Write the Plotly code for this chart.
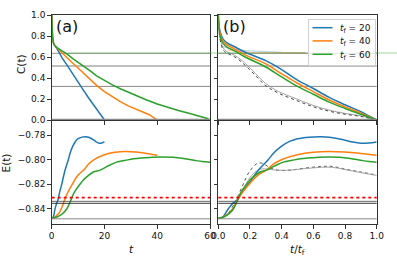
import plotly.graph_objects as go

W, H = 397, 264

# ---------------- data ----------------
# panel (a) C(t)
t_c_blue = [0, 0.1, 0.3, 0.6, 1, 2, 3, 4, 6, 8, 10, 12, 14, 16, 17, 18, 19, 19.7, 20]
c_blue = [1.0, 0.9, 0.8, 0.74, 0.715, 0.68, 0.635, 0.59, 0.515, 0.435, 0.36, 0.285, 0.21, 0.14, 0.1, 0.07, 0.035, 0.012, 0.0]
t_c_orange = [0, 0.1, 0.3, 0.6, 1, 2, 3, 4, 6, 8, 10, 12, 14, 17, 20, 23, 26, 29, 32, 35, 37, 38.5, 39.5, 40]
c_orange = [1.0, 0.9, 0.8, 0.74, 0.715, 0.685, 0.66, 0.635, 0.59, 0.54, 0.495, 0.445, 0.4, 0.33, 0.27, 0.22, 0.175, 0.135, 0.1, 0.072, 0.05, 0.025, 0.01, 0.0]
t_c_green = [0, 0.1, 0.3, 0.6, 1, 2, 3, 4, 6, 8, 10, 12, 15, 17, 20, 23, 26, 29, 32, 36, 40, 44, 48, 52, 56, 59, 60]
c_green = [1.0, 0.9, 0.8, 0.74, 0.715, 0.69, 0.675, 0.66, 0.625, 0.585, 0.55, 0.52, 0.46, 0.42, 0.375, 0.335, 0.298, 0.265, 0.235, 0.19, 0.152, 0.12, 0.09, 0.065, 0.04, 0.015, 0.0]

# panel (b) C vs t/tf
u_c = [0, 0.01, 0.03, 0.06, 0.1, 0.17, 0.3, 0.4, 0.5, 0.6, 0.7, 0.8, 0.9, 1.0]
cb_blue = [1.0, 0.85, 0.77, 0.73, 0.70, 0.645, 0.565, 0.48, 0.38, 0.30, 0.215, 0.145, 0.08, 0.0]
cb_orange = [1.0, 0.83, 0.75, 0.71, 0.68, 0.62, 0.535, 0.44, 0.35, 0.27, 0.19, 0.125, 0.065, 0.0]
cb_green = [1.0, 0.8, 0.73, 0.69, 0.66, 0.60, 0.505, 0.41, 0.32, 0.245, 0.17, 0.11, 0.055, 0.0]
u_c_ref = [0, 0.01, 0.03, 0.05, 0.086, 0.12, 0.17, 0.234, 0.297, 0.381, 0.486, 0.592, 0.697, 0.8, 0.907, 1.0]
cb_ref1 = [1.0, 0.8, 0.69, 0.655, 0.63, 0.60, 0.54, 0.444, 0.35, 0.27, 0.206, 0.143, 0.095, 0.063, 0.038, 0.0]
cb_ref2 = [1.0, 0.78, 0.67, 0.64, 0.615, 0.585, 0.52, 0.425, 0.33, 0.255, 0.19, 0.13, 0.085, 0.055, 0.032, 0.0]
u_faint_blue = [0.03, 0.1, 0.2, 0.3, 0.4, 0.55]
c_faint_blue = [0.70, 0.67, 0.658, 0.65, 0.645, 0.642]
u_faint_orange = [0.06, 0.1, 0.2, 0.35, 0.55]
c_faint_orange = [0.67, 0.655, 0.645, 0.641, 0.64]

# panel (a)/(b) E(t)
t_e_blue = [0, 0.5, 1.25, 2, 2.3, 3, 3.8, 5, 6.3, 7, 8, 9, 10, 11.5, 13, 14, 15, 16, 17, 18, 19, 20]
e_blue = [-0.8475, -0.847, -0.84, -0.8345, -0.8333, -0.8265, -0.82, -0.809, -0.80, -0.7945, -0.789, -0.7852, -0.783, -0.7817, -0.7814, -0.7818, -0.7828, -0.7842, -0.7857, -0.7866, -0.7864, -0.7856]
t_e_orange = [0, 1, 2, 3, 4, 4.6, 6, 7.8, 10, 12.2, 14, 16.4, 20, 24, 28, 32, 36, 40]
e_orange = [-0.8475, -0.847, -0.845, -0.8425, -0.838, -0.8343, -0.827, -0.82, -0.8125, -0.8082, -0.8035, -0.7995, -0.796, -0.794, -0.7933, -0.7938, -0.795, -0.7965]
t_e_green = [0, 2, 4, 5.7, 7, 7.6, 9, 10.7, 12, 13.5, 15.8, 18.3, 21, 24.6, 28, 31, 35, 38, 42, 46, 50, 54, 57, 60]
e_green = [-0.8475, -0.8465, -0.844, -0.84, -0.8343, -0.831, -0.825, -0.82, -0.8165, -0.8135, -0.81, -0.8085, -0.8055, -0.802, -0.8005, -0.7993, -0.7985, -0.798, -0.7978, -0.798, -0.799, -0.8005, -0.8015, -0.802]
tf_values = [20, 40, 60]
legend_labels = [f"<i>t</i><sub>f</sub> = {tf}" for tf in tf_values]

u_e_ref = [0, 0.05, 0.1, 0.15, 0.2, 0.25, 0.28, 0.32, 0.37, 0.45, 0.55, 0.65, 0.72, 0.8, 0.9, 1.0]
eb_ref1 = [-0.8475, -0.845, -0.836, -0.822, -0.809, -0.8028, -0.803, -0.806, -0.8085, -0.8085, -0.8068, -0.8055, -0.8055, -0.8077, -0.81, -0.8125]
eb_ref2 = [-0.8475, -0.8455, -0.838, -0.826, -0.8145, -0.8085, -0.8075, -0.8078, -0.8085, -0.8085, -0.8072, -0.8062, -0.8062, -0.808, -0.8105, -0.8128]

c_hlines = [0.635, 0.515, 0.32]
e_red = -0.8308
e_black = [-0.8338, -0.8354]
e_gray = -0.848

# ---------------- figure ----------------
BLUE, ORANGE, GREEN = "#1f77b4", "#ff7f0e", "#2ca02c"
cols = [BLUE, ORANGE, GREEN]

def px_x(p):
    return p / W

def px_y(p):
    return 1 - p / H

xa = [px_x(51.7), px_x(210)]
xb = [px_x(218.3), px_x(376.7)]
yt = [px_y(120), px_y(15)]
yb = [px_y(224), px_y(120)]

fig = go.Figure()

# (a) C
for tx, cy, col in zip([t_c_blue, t_c_orange, t_c_green], [c_blue, c_orange, c_green], cols):
    fig.add_trace(go.Scatter(x=tx, y=cy, mode="lines", line=dict(color=col, width=1.5),
                             showlegend=False, xaxis="x", yaxis="y"))
# (b) C
fig.add_trace(go.Scatter(x=u_faint_blue, y=c_faint_blue, mode="lines", line=dict(color=BLUE, width=1.3),
                         opacity=0.3, showlegend=False, xaxis="x2", yaxis="y2"))
fig.add_trace(go.Scatter(x=u_faint_orange, y=c_faint_orange, mode="lines", line=dict(color=ORANGE, width=1.3),
                         opacity=0.4, showlegend=False, xaxis="x2", yaxis="y2"))
fig.add_trace(go.Scatter(x=u_c_ref, y=cb_ref1, mode="lines", line=dict(color="#999", width=0.9, shape="spline"),
                         showlegend=False, xaxis="x2", yaxis="y2"))
fig.add_trace(go.Scatter(x=u_c_ref, y=cb_ref2, mode="lines", line=dict(color="#333", width=0.9, dash="dot", shape="spline"),
                         showlegend=False, xaxis="x2", yaxis="y2"))
for cy, col, lab in zip([cb_blue, cb_orange, cb_green], cols, legend_labels):
    fig.add_trace(go.Scatter(x=u_c, y=cy, mode="lines", line=dict(color=col, width=1.5, shape="spline"),
                             name=lab, showlegend=False, xaxis="x2", yaxis="y2"))

# (a) and (b) E
for tx, ey, col in zip([t_e_blue, t_e_orange, t_e_green], [e_blue, e_orange, e_green], cols):
    fig.add_trace(go.Scatter(x=tx, y=ey, mode="lines", line=dict(color=col, width=1.5, shape="spline"),
                             showlegend=False, xaxis="x3", yaxis="y3"))
fig.add_trace(go.Scatter(x=u_e_ref, y=eb_ref1, mode="lines", line=dict(color="#444", width=0.9, dash="dot", shape="spline"),
                         showlegend=False, xaxis="x4", yaxis="y4"))
fig.add_trace(go.Scatter(x=u_e_ref, y=eb_ref2, mode="lines", line=dict(color="#999", width=0.9, shape="spline"),
                         showlegend=False, xaxis="x4", yaxis="y4"))
for tx, ey, col, tf in zip([t_e_blue, t_e_orange, t_e_green], [e_blue, e_orange, e_green], cols, tf_values):
    fig.add_trace(go.Scatter(x=[v / tf for v in tx], y=ey, mode="lines", line=dict(color=col, width=1.5, shape="spline"),
                             showlegend=False, xaxis="x4", yaxis="y4"))

shapes = []
for xr, yr in [("x", "y"), ("x2", "y2")]:
    for i, v in enumerate(c_hlines):
        shapes.append(dict(type="line", xref=f"{xr} domain", yref=yr, x0=0, x1=1, y0=v, y1=v,
                           line=dict(color=["#777", "#aaa", "#888"][i], width=[0.8, 1.6, 1.0][i]), layer="below"))
    shapes.append(dict(type="line", xref=f"{xr} domain", yref=yr, x0=0, x1=1, y0=0, y1=0,
                       line=dict(color="#888", width=2.5)))
for xr, yr in [("x3", "y3"), ("x4", "y4")]:
    shapes.append(dict(type="line", xref=f"{xr} domain", yref=yr, x0=0, x1=1, y0=e_red, y1=e_red,
                       line=dict(color="red", width=1.6, dash="dot")))
    for v, c in zip(e_black, ["#555", "#222"]):
        shapes.append(dict(type="line", xref=f"{xr} domain", yref=yr, x0=0, x1=1, y0=v, y1=v,
                           line=dict(color=c, width=0.9)))
    shapes.append(dict(type="line", xref=f"{xr} domain", yref=yr, x0=0, x1=1, y0=e_gray, y1=e_gray,
                       line=dict(color="#888", width=1.0)))
# faint green line spanning the figure
shapes.append(dict(type="line", xref="paper", yref="y", x0=px_x(68), x1=1, y0=0.638, y1=0.638,
                   line=dict(color="rgba(44,160,44,0.45)", width=1.0)))

# legend box (matplotlib style)
LX0, LX1, LY0, LY1 = 308.5, 375.5, 19.5, 65.5
shapes.append(dict(type="rect", xref="paper", yref="paper", x0=px_x(LX0), x1=px_x(LX1), y0=px_y(LY1), y1=px_y(LY0),
                   line=dict(color="#d0d0d0", width=1), fillcolor="rgba(255,255,255,0.8)"))
leg_rows = [27.7, 40.9, 54.3]
FONT = "DejaVu Sans"
annotations = []
for ry, col, lab in zip(leg_rows, cols, legend_labels):
    shapes.append(dict(type="line", xref="paper", yref="paper", x0=px_x(312.5), x1=px_x(332.5),
                       y0=px_y(ry), y1=px_y(ry), line=dict(color=col, width=1.5)))
    annotations.append(dict(text=lab, x=px_x(337.5), y=px_y(ry + 1), xref="paper", yref="paper",
                            xanchor="left", yanchor="middle", showarrow=False,
                            font=dict(family=FONT, size=9, color="#111")))

ax_common = dict(showline=True, linecolor="#333", linewidth=1, mirror=True, ticks="outside",
                 ticklen=3.5, tickcolor="#333", tickfont=dict(family=FONT, size=9, color="#111"),
                 showgrid=False, zeroline=False, automargin=False)

annotations += [
    dict(text="(a)", x=px_x(54), y=px_y(15), xref="paper", yref="paper", xanchor="left", yanchor="top",
         showarrow=False, font=dict(family=FONT, size=16, color="#111")),
    dict(text="(b)", x=px_x(221), y=px_y(15), xref="paper", yref="paper", xanchor="left", yanchor="top",
         showarrow=False, font=dict(family=FONT, size=16, color="#111")),
    dict(text="C(t)", x=px_x(21), y=px_y(64), xref="paper", yref="paper", textangle=-90,
         xanchor="center", yanchor="middle",
         showarrow=False, font=dict(family=FONT, size=10.5, color="#111")),
    dict(text="E(t)", x=px_x(5.5), y=px_y(163), xref="paper", yref="paper", textangle=-90,
         xanchor="center", yanchor="middle",
         showarrow=False, font=dict(family=FONT, size=10.5, color="#111")),
    dict(text="<i>t</i>", x=px_x(131), y=px_y(241), xref="paper", yref="paper",
         xanchor="center", yanchor="top",
         showarrow=False, font=dict(family=FONT, size=10.5, color="#111")),
    dict(text="<i>t</i>/<i>t</i><sub>f</sub>", x=px_x(297), y=px_y(241), xref="paper", yref="paper",
         xanchor="center", yanchor="top",
         showarrow=False, font=dict(family=FONT, size=10.5, color="#111")),
]

fig.update_layout(
    template="none",
    width=W, height=H, margin=dict(l=0, r=0, t=0, b=0, pad=0, autoexpand=False),
    plot_bgcolor="white", paper_bgcolor="white",
    font=dict(family=FONT, size=9, color="#111"),
    shapes=shapes,
    showlegend=False,
    xaxis=dict(domain=xa, range=[0, 60], tickvals=[0, 20, 40, 60], showticklabels=False, anchor="y", **ax_common),
    yaxis=dict(domain=yt, range=[0, 1], tickvals=[0, 0.2, 0.4, 0.6, 0.8, 1.0], ticktext=["0.0", "0.2", "0.4", "0.6", "0.8", "1.0"], anchor="x", **ax_common),
    xaxis2=dict(domain=xb, range=[0, 1], tickvals=[0, 0.2, 0.4, 0.6, 0.8, 1.0], showticklabels=False, anchor="y2", **ax_common),
    yaxis2=dict(domain=yt, range=[0, 1], tickvals=[0, 0.2, 0.4, 0.6, 0.8, 1.0], showticklabels=False, anchor="x2", **ax_common),
    xaxis3=dict(domain=xa, range=[0, 60], tickvals=[0, 20, 40, 60], anchor="y3", **ax_common),
    yaxis3=dict(domain=yb, range=[-0.8522, -0.7678], tickvals=[-0.84, -0.82, -0.80, -0.78],
                ticktext=["\u22120.84", "\u22120.82", "\u22120.80", "\u22120.78"], anchor="x3", **ax_common),
    xaxis4=dict(domain=xb, range=[0, 1], tickvals=[0, 0.2, 0.4, 0.6, 0.8, 1.0],
                ticktext=["0.0", "0.2", "0.4", "0.6", "0.8", "1.0"], anchor="y4", **ax_common),
    yaxis4=dict(domain=yb, range=[-0.8522, -0.7678], tickvals=[-0.84, -0.82, -0.80, -0.78], showticklabels=False, anchor="x4", **ax_common),
    annotations=annotations,
)

fig.write_html("out.html", config={"displayModeBar": False, "staticPlot": True},
               post_script="document.body.style.margin='0';document.body.style.overflow='hidden';")
